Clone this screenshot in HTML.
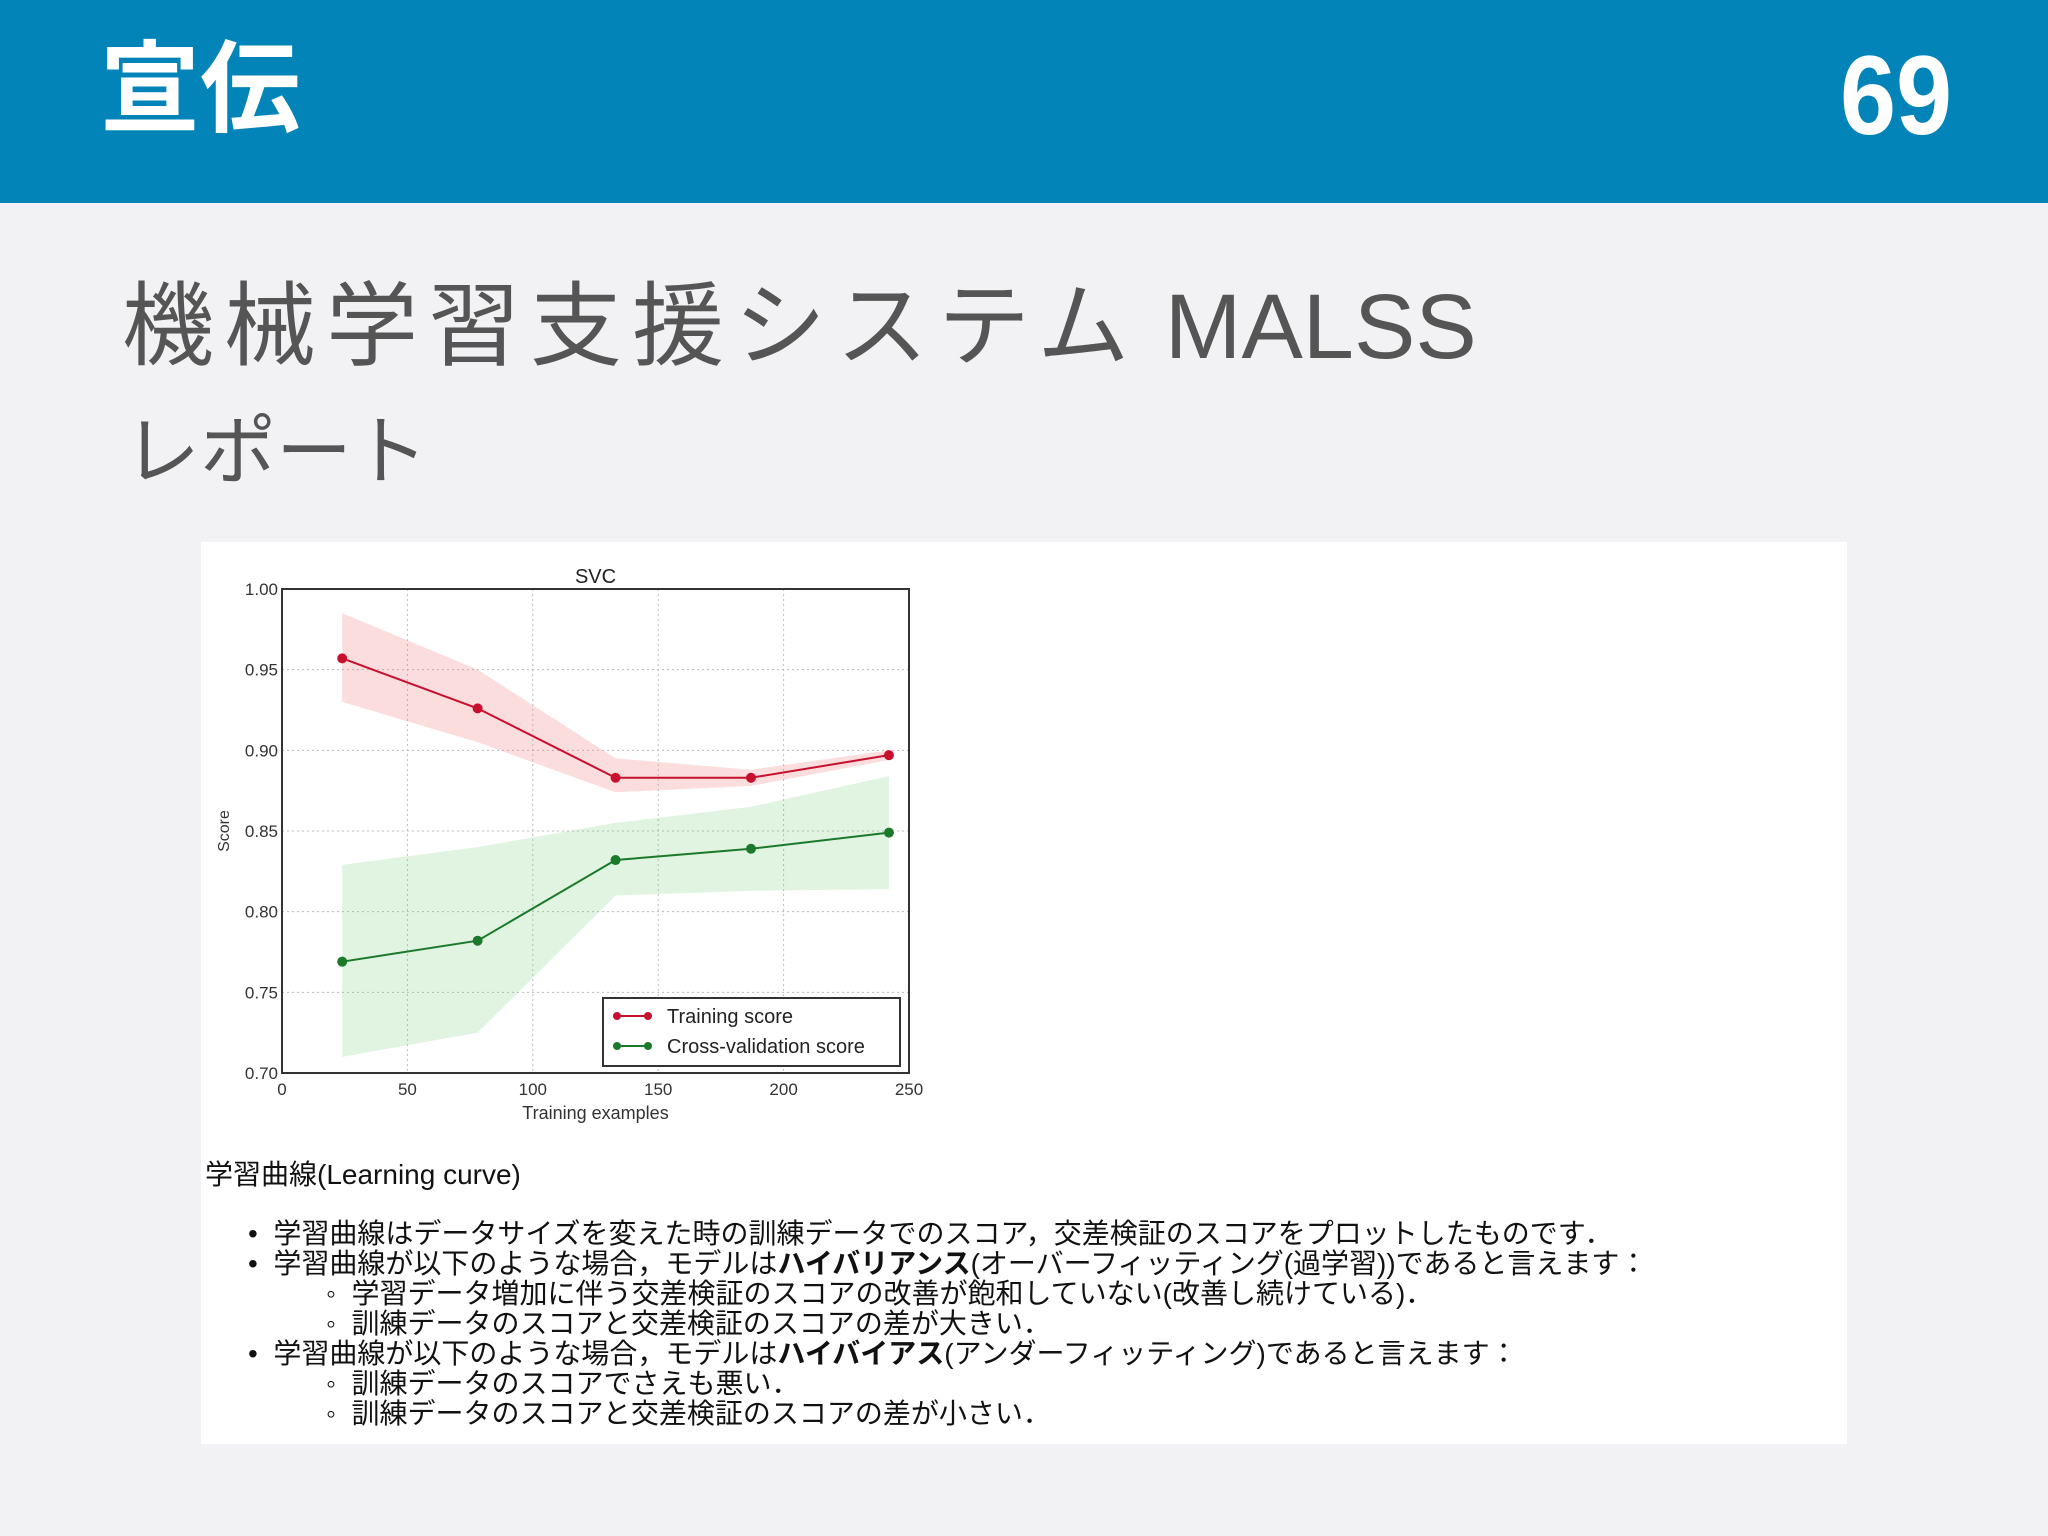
<!DOCTYPE html>
<html><head><meta charset="utf-8"><style>
body{margin:0;width:2048px;height:1536px;background:#f2f1f4;overflow:hidden;position:relative;font-family:"Liberation Sans","Noto Sans CJK JP",sans-serif}
.hdr{position:absolute;left:0;top:0;width:2048px;height:203px;background:#0284b8}
.abs{position:absolute;white-space:nowrap}
.panel{position:absolute;left:201px;top:542px;width:1646px;height:902px;background:#fff}
.ln{position:absolute;font-size:28px;color:#111;white-space:nowrap;line-height:30px}
</style></head><body>
<div class="hdr"></div>
<div class="abs" style="left:100px;top:30px;font-size:100px;font-weight:bold;color:#fff;line-height:120px">宣伝</div>
<div class="abs" style="left:1840px;top:36px;font-size:112px;font-weight:bold;color:#fff;line-height:120px;transform:scaleX(0.9);transform-origin:left">69</div>
<div class="abs" style="left:122px;top:272px;font-size:92px;color:#555;line-height:110px"><span style="letter-spacing:10px">機械学習支援システム</span> MALSS</div>
<div class="abs" style="left:124px;top:408px;font-size:76px;color:#555;line-height:90px">レポート</div>
<div class="panel"></div>
<svg id="chart" style="position:absolute;left:0;top:0" width="2048" height="1536"></svg>
<div class="ln" style="left:205px;top:1160px">学習曲線(Learning curve)</div>
<div class="ln" style="left:248px;top:1219px">•&nbsp; 学習曲線はデータサイズを変えた時の訓練データでのスコア，交差検証のスコアをプロットしたものです．</div>
<div class="ln" style="left:248px;top:1249px">•&nbsp; 学習曲線が以下のような場合，モデルは<b>ハイバリアンス</b>(オーバーフィッティング(過学習))であると言えます：</div>
<div class="ln" style="left:326px;top:1279px">◦&nbsp; 学習データ増加に伴う交差検証のスコアの改善が飽和していない(改善し続けている)．</div>
<div class="ln" style="left:326px;top:1309px">◦&nbsp; 訓練データのスコアと交差検証のスコアの差が大きい．</div>
<div class="ln" style="left:248px;top:1339px">•&nbsp; 学習曲線が以下のような場合，モデルは<b>ハイバイアス</b>(アンダーフィッティング)であると言えます：</div>
<div class="ln" style="left:326px;top:1369px">◦&nbsp; 訓練データのスコアでさえも悪い．</div>
<div class="ln" style="left:326px;top:1399px">◦&nbsp; 訓練データのスコアと交差検証のスコアの差が小さい．</div>
<script>
const xVals=[24,78,133,187,242];
const trainScore=[0.957,0.926,0.883,0.883,0.897];
const trainUpper=[0.985,0.950,0.895,0.888,0.900];
const trainLower=[0.930,0.905,0.874,0.878,0.894];
const cvScore=[0.769,0.782,0.832,0.839,0.849];
const cvUpper=[0.829,0.840,0.855,0.865,0.884];
const cvLower=[0.710,0.725,0.810,0.813,0.814];
const xTicks=[0,50,100,150,200,250];
const yTicks=[0.70,0.75,0.80,0.85,0.90,0.95,1.00];
const L=282,R=909,T=589,B=1073;
const sx=v=>L+(v-0)/(250)*(R-L);
const sy=v=>B-(v-0.70)/(0.30)*(B-T);
const svg=document.getElementById('chart');
const NS='http://www.w3.org/2000/svg';
function mk(t,a,p){const e=document.createElementNS(NS,t);for(const k in a)e.setAttribute(k,a[k]);(p||svg).appendChild(e);return e;}
xTicks.forEach(v=>{const e=mk('line',{x1:sx(v),x2:sx(v),y1:T,y2:B,stroke:'#bbb','stroke-dasharray':'2,3'});


const t=mk('text',{x:sx(v),y:B+22,'text-anchor':'middle','font-size':17,fill:'#333'});t.textContent=v;

});
yTicks.forEach(v=>{const e=mk('line',{x1:L,x2:R,y1:sy(v),y2:sy(v),stroke:'#bbb','stroke-dasharray':'2,3'});


const t=mk('text',{x:L-4,y:sy(v)+6,'text-anchor':'end','font-size':17,fill:'#333'});t.textContent=v.toFixed(2);

});
function band(up,lo,fill){let d='M'+xVals.map((x,i)=>sx(x)+','+sy(up[i])).join('L');
for(let i=xVals.length-1;i>=0;i--)d+='L'+sx(xVals[i])+','+sy(lo[i]);
const e=mk('path',{d:d+'Z',fill:fill});
}
band(trainUpper,trainLower,'rgba(240,120,120,0.25)');

band(cvUpper,cvLower,'rgba(120,200,120,0.22)');

function series(vals,col,name){const e=mk('polyline',{points:xVals.map((x,i)=>sx(x)+','+sy(vals[i])).join(' '),fill:'none',stroke:col,'stroke-width':2});


vals.forEach((v,i)=>{const c=mk('circle',{cx:sx(xVals[i]),cy:sy(v),r:5,fill:col});

});}
series(trainScore,'#c8102e','training-score');
series(cvScore,'#1a7a2a','cv-score');
const fr=mk('rect',{x:L,y:T,width:R-L,height:B-T,fill:'none',stroke:'#333','stroke-width':2});


const ti=mk('text',{x:(L+R)/2,y:T-6,'text-anchor':'middle','font-size':20,fill:'#222'});ti.textContent='SVC';


const xl=mk('text',{x:(L+R)/2,y:B+46,'text-anchor':'middle','font-size':18,fill:'#333'});xl.textContent='Training examples';


const yl=mk('text',{x:0,y:0,'text-anchor':'middle','font-size':16,fill:'#333',transform:'translate(229,'+(T+B)/2+') rotate(-90)'});yl.textContent='Score';


const lg=mk('rect',{x:603,y:998,width:297,height:68,fill:'#fff',stroke:'#333','stroke-width':2});


[['Training score','#c8102e',1016],['Cross-validation score','#1a7a2a',1046]].forEach(([n,c,y])=>{
const l=mk('line',{x1:617,x2:648,y1:y,y2:y,stroke:c,'stroke-width':2});


mk('circle',{cx:617,cy:y,r:4,fill:c});mk('circle',{cx:648,cy:y,r:4,fill:c});
const t=mk('text',{x:667,y:y+7,'font-size':20,fill:'#222'});t.textContent=n;

});
</script>
</body></html>
